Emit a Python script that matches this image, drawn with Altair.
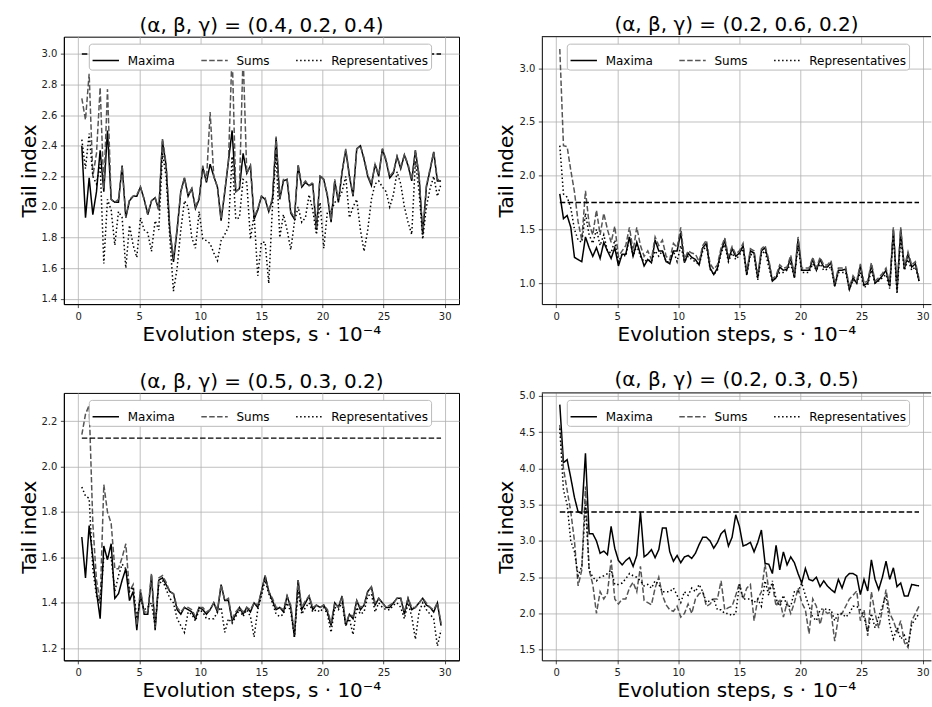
import altair as alt
import pandas as pd

FONT = "DejaVu Sans"

# x positions: evolution steps (s * 1e-4), sampled every 0.3
X = [round(0.3 * (i + 1), 1) for i in range(99)]
XTICKS = [0, 5, 10, 15, 20, 25, 30]

SERIES = ["Maxima", "Sums", "Representatives"]

# ---- panel 1: (0.4, 0.2, 0.4)
P1_TITLE = "(α, β, γ) = (0.4, 0.2, 0.4)"
P1_REF = 3.0
P1_YTICKS = [1.4, 1.6, 1.8, 2.0, 2.2, 2.4, 2.6, 2.8, 3.0]
P1_MAX = [2.40, 1.93, 2.19, 1.95, 2.10, 2.37, 2.10, 2.50, 2.05, 2.03,
          2.03, 2.27, 1.93, 2.04, 2.07, 2.07, 2.13, 2.05, 1.95, 2.04,
          2.06, 1.98, 2.43, 2.27, 1.85, 1.64, 1.85, 2.10, 2.19, 2.07,
          2.12, 1.99, 2.05, 2.26, 2.16, 2.28, 2.20, 2.13, 1.91, 2.10,
          2.30, 2.50, 2.10, 2.12, 2.35, 2.22, 2.27, 1.92, 1.98, 2.07,
          2.05, 1.97, 2.05, 2.45, 2.05, 2.17, 2.18, 1.96, 1.92, 2.27,
          2.13, 2.16, 2.14, 2.15, 1.85, 2.20, 2.18, 2.07, 1.90, 2.17,
          2.03, 2.23, 2.37, 2.20, 2.07, 2.38, 2.40, 2.31, 2.20, 2.14,
          2.28, 2.20, 2.38, 2.30, 2.19, 2.22, 2.33, 2.25, 2.34, 2.27,
          2.17, 2.37, 2.20, 1.82, 2.13, 2.24, 2.36, 2.17, 2.17]
P1_SUM = [2.71, 2.57, 2.87, 2.20, 2.35, 2.78, 2.12, 2.77, 2.05, 2.03,
          2.05, 2.27, 1.93, 2.05, 2.07, 2.08, 2.13, 2.05, 1.95, 2.04,
          2.06, 1.98, 2.45, 2.28, 1.86, 1.66, 1.86, 2.10, 2.19, 2.08,
          2.12, 2.00, 2.06, 2.27, 2.17, 2.62, 2.20, 2.13, 1.92, 2.10,
          2.30, 3.02, 2.10, 2.12, 3.00, 2.22, 2.27, 1.93, 1.99, 2.07,
          2.06, 1.97, 2.06, 2.46, 2.06, 2.18, 2.18, 1.97, 1.93, 2.28,
          2.14, 2.17, 2.14, 2.16, 1.85, 2.21, 2.18, 2.08, 1.91, 2.18,
          2.04, 2.23, 2.38, 2.21, 2.08, 2.38, 2.40, 2.32, 2.21, 2.15,
          2.28, 2.21, 2.38, 2.31, 2.20, 2.23, 2.33, 2.26, 2.34, 2.28,
          2.18, 2.37, 2.21, 1.82, 2.14, 2.25, 2.36, 2.18, 2.18]
P1_REP = [2.44, 2.25, 2.48, 2.20, 2.15, 2.28, 1.63, 2.05, 1.98, 1.75,
          1.97, 1.93, 1.60, 1.88, 1.75, 1.67, 1.93, 1.85, 1.83, 1.71,
          1.91, 1.85, 2.35, 2.20, 1.80, 1.45, 1.60, 1.85, 2.04, 2.00,
          1.80, 1.73, 1.97, 1.79, 1.78, 1.76, 1.70, 1.65, 1.78, 1.82,
          1.87, 2.33, 1.92, 1.93, 2.18, 2.16, 1.79, 1.95, 1.55, 1.77,
          1.77, 1.50, 2.00, 2.35, 1.80, 1.95, 1.85, 1.72, 1.90, 2.00,
          1.90, 1.93, 2.08, 1.98, 1.82, 2.03, 1.73, 1.97, 1.97, 2.03,
          2.05, 2.10, 2.20, 1.93, 2.00, 2.05, 1.85, 1.71, 1.85, 2.05,
          2.15, 2.17, 2.13, 2.10, 2.00, 2.08, 2.23, 2.15, 2.00, 1.90,
          1.82, 2.30, 2.10, 1.79, 2.00, 2.12, 2.20, 2.07, 2.15]

# ---- panel 2: (0.2, 0.6, 0.2)
P2_TITLE = "(α, β, γ) = (0.2, 0.6, 0.2)"
P2_REF = 1.75
P2_YTICKS = [1.0, 1.5, 2.0, 2.5, 3.0]
P2_MAX = [1.83, 1.60, 1.63, 1.52, 1.24, 1.22, 1.20, 1.43, 1.33, 1.25,
          1.33, 1.23, 1.38, 1.30, 1.23, 1.33, 1.16, 1.27, 1.27, 1.43,
          1.25, 1.38, 1.27, 1.16, 1.22, 1.19, 1.40, 1.30, 1.30, 1.20,
          1.18, 1.30, 1.30, 1.47, 1.19, 1.28, 1.24, 1.22, 1.17, 1.33,
          1.37, 1.14, 1.08, 1.14, 1.30, 1.40, 1.22, 1.32, 1.25, 1.28,
          1.35, 1.08, 1.30, 1.28, 1.05, 1.30, 1.33, 1.20, 1.02, 1.05,
          1.15, 1.12, 1.13, 1.24, 1.05, 1.41, 1.12, 1.12, 1.12, 1.22,
          1.12, 1.22, 1.15, 1.15, 1.19, 0.97, 1.12, 1.12, 1.13, 0.94,
          1.05, 1.00, 1.16, 0.98, 1.00, 1.17, 1.00, 1.03, 1.07, 1.12,
          0.97, 1.50, 0.93, 1.50, 1.13, 1.27, 1.15, 1.18, 1.02]
P2_SUM = [3.18, 2.28, 2.27, 2.05, 1.85, 1.57, 1.40, 1.86, 1.55, 1.45,
          1.68, 1.45, 1.65, 1.50, 1.38, 1.53, 1.25, 1.30, 1.35, 1.52,
          1.30, 1.52, 1.35, 1.25, 1.30, 1.22, 1.43, 1.35, 1.40, 1.25,
          1.22, 1.37, 1.33, 1.52, 1.22, 1.30, 1.28, 1.27, 1.20, 1.35,
          1.40, 1.18, 1.13, 1.17, 1.33, 1.42, 1.25, 1.34, 1.27, 1.30,
          1.37, 1.10, 1.32, 1.30, 1.07, 1.32, 1.35, 1.22, 1.04, 1.07,
          1.17, 1.14, 1.15, 1.26, 1.07, 1.43, 1.14, 1.14, 1.14, 1.24,
          1.14, 1.24, 1.17, 1.17, 1.21, 0.99, 1.14, 1.14, 1.15, 0.96,
          1.07, 1.02, 1.18, 1.00, 1.02, 1.19, 1.02, 1.05, 1.09, 1.14,
          0.99, 1.52, 0.95, 1.52, 1.15, 1.29, 1.17, 1.20, 1.04]
P2_REP = [2.28, 1.83, 1.80, 1.70, 1.50, 1.40, 1.38, 1.65, 1.45, 1.37,
          1.50, 1.35, 1.45, 1.30, 1.28, 1.40, 1.20, 1.27, 1.25, 1.43,
          1.25, 1.35, 1.25, 1.20, 1.22, 1.20, 1.30, 1.25, 1.30, 1.20,
          1.20, 1.30, 1.20, 1.35, 1.20, 1.25, 1.22, 1.20, 1.17, 1.30,
          1.35, 1.13, 1.08, 1.12, 1.28, 1.36, 1.20, 1.28, 1.22, 1.26,
          1.32, 1.07, 1.27, 1.25, 1.03, 1.27, 1.30, 1.15, 1.02, 1.05,
          1.10, 1.10, 1.12, 1.18, 1.05, 1.35, 1.10, 1.10, 1.10, 1.18,
          1.12, 1.18, 1.12, 1.13, 1.15, 0.97, 1.10, 1.10, 1.10, 0.94,
          1.03, 1.00, 1.10, 0.96, 0.98, 1.12, 1.00, 1.02, 1.05, 1.08,
          0.95, 1.45, 0.90, 1.42, 1.12, 1.22, 1.12, 1.15, 1.02]

# ---- panel 3: (0.5, 0.3, 0.2)
P3_TITLE = "(α, β, γ) = (0.5, 0.3, 0.2)"
P3_REF = 2.125
P3_YTICKS = [1.2, 1.4, 1.6, 1.8, 2.0, 2.2]
P3_MAX = [1.69, 1.51, 1.74, 1.60, 1.45, 1.33, 1.65, 1.59, 1.66, 1.42,
          1.44, 1.50, 1.55, 1.41, 1.45, 1.28, 1.45, 1.35, 1.35, 1.52,
          1.28, 1.50, 1.51, 1.48, 1.45, 1.44, 1.37, 1.35, 1.38, 1.37,
          1.36, 1.33, 1.38, 1.37, 1.35, 1.37, 1.40, 1.36, 1.48, 1.41,
          1.41, 1.32, 1.35, 1.38, 1.35, 1.38, 1.36, 1.40, 1.38, 1.45,
          1.52, 1.45, 1.41, 1.37, 1.38, 1.36, 1.43, 1.38, 1.25, 1.50,
          1.37, 1.40, 1.43, 1.37, 1.39, 1.38, 1.39, 1.36, 1.30, 1.40,
          1.38, 1.43, 1.30, 1.35, 1.33, 1.41, 1.37, 1.39, 1.45, 1.47,
          1.39, 1.42, 1.40, 1.38, 1.38, 1.40, 1.42, 1.42, 1.35, 1.42,
          1.37, 1.38, 1.40, 1.42, 1.39, 1.38, 1.36, 1.40, 1.30]
P3_SUM = [2.14, 2.23, 2.27, 1.75, 1.50, 1.40, 1.92, 1.80, 1.75, 1.55,
          1.55, 1.60, 1.66, 1.45, 1.48, 1.30, 1.46, 1.36, 1.36, 1.53,
          1.29, 1.51, 1.52, 1.49, 1.45, 1.44, 1.38, 1.36, 1.38, 1.38,
          1.37, 1.34, 1.38, 1.38, 1.36, 1.37, 1.40, 1.37, 1.48, 1.41,
          1.42, 1.33, 1.36, 1.38, 1.36, 1.38, 1.37, 1.40, 1.39, 1.45,
          1.52, 1.45, 1.42, 1.38, 1.38, 1.37, 1.43, 1.39, 1.26, 1.50,
          1.38, 1.41, 1.43, 1.38, 1.39, 1.38, 1.39, 1.37, 1.31, 1.40,
          1.38, 1.43, 1.31, 1.35, 1.34, 1.41, 1.38, 1.39, 1.45, 1.47,
          1.40, 1.42, 1.40, 1.38, 1.39, 1.40, 1.42, 1.42, 1.36, 1.42,
          1.38, 1.38, 1.40, 1.42, 1.40, 1.38, 1.37, 1.40, 1.31]
P3_REP = [1.91, 1.87, 1.86, 1.55, 1.43, 1.40, 1.60, 1.60, 1.60, 1.45,
          1.52, 1.57, 1.55, 1.45, 1.47, 1.33, 1.42, 1.37, 1.38, 1.40,
          1.30, 1.48, 1.50, 1.46, 1.42, 1.40, 1.33, 1.30, 1.27, 1.36,
          1.35, 1.32, 1.37, 1.36, 1.33, 1.33, 1.33, 1.36, 1.38, 1.27,
          1.33, 1.31, 1.34, 1.37, 1.34, 1.37, 1.34, 1.25, 1.37, 1.43,
          1.50, 1.44, 1.40, 1.35, 1.34, 1.35, 1.40, 1.36, 1.25, 1.45,
          1.35, 1.38, 1.40, 1.36, 1.37, 1.36, 1.38, 1.35, 1.27, 1.38,
          1.37, 1.40, 1.30, 1.33, 1.26, 1.38, 1.35, 1.36, 1.43, 1.44,
          1.36, 1.40, 1.38, 1.37, 1.37, 1.39, 1.40, 1.38, 1.33, 1.40,
          1.34, 1.24, 1.36, 1.40, 1.37, 1.35, 1.33, 1.21, 1.28]

# ---- panel 4: (0.2, 0.3, 0.5)
P4_TITLE = "(α, β, γ) = (0.2, 0.3, 0.5)"
P4_REF = 3.4
P4_YTICKS = [1.5, 2.0, 2.5, 3.0, 3.5, 4.0, 4.5, 5.0]
P4_MAX = [4.88, 4.08, 4.12, 3.87, 3.60, 3.40, 3.38, 4.21, 3.10, 3.10,
          3.00, 2.83, 2.86, 2.81, 3.20, 2.90, 2.73, 2.67, 2.73, 2.77,
          2.65, 2.80, 3.40, 2.78, 2.82, 2.88, 2.77, 2.88, 3.18, 3.18,
          2.85, 2.72, 2.80, 2.70, 2.78, 2.80, 2.76, 2.83, 2.95, 3.05,
          3.05, 3.00, 2.90, 2.98, 3.10, 3.15, 2.93, 3.05, 3.36, 3.20,
          2.93, 2.95, 2.98, 2.85, 2.98, 3.15, 2.69, 2.68, 2.55, 2.94,
          2.60, 2.85, 2.67, 2.78, 2.70, 2.55, 2.42, 2.62, 2.47, 2.45,
          2.50, 2.37, 2.45, 2.38, 2.33, 2.29, 2.47, 2.35, 2.50, 2.55,
          2.55, 2.52, 2.26, 2.47, 2.31, 2.74, 2.47, 2.33, 2.50, 2.72,
          2.47, 2.63, 2.37, 2.42, 2.24, 2.24, 2.40, 2.39, 2.38]
P4_SUM = [4.60, 4.00, 3.70, 3.40, 3.00, 2.38, 2.60, 3.75, 2.60, 2.40,
          2.00, 2.30, 2.20, 2.28, 2.74, 2.20, 2.13, 2.20, 2.20, 2.35,
          2.43, 2.30, 2.65, 2.18, 2.15, 2.12, 2.35, 2.50, 2.25, 2.12,
          2.05, 2.03, 2.10, 1.95, 2.00, 2.13, 2.00, 2.20, 2.27, 2.30,
          2.10, 2.13, 2.20, 2.20, 2.45, 2.05, 2.08, 2.10, 2.25, 2.42,
          2.20, 2.35, 2.40, 1.90, 2.20, 2.30, 2.68, 2.33, 2.40, 2.10,
          2.20, 1.95, 2.15, 2.00, 2.15, 2.35, 2.15, 2.05, 1.72, 2.20,
          2.10, 1.85, 2.05, 2.00, 2.02, 1.62, 1.95, 2.00, 2.10, 2.20,
          2.25, 2.31, 1.90, 2.05, 1.69, 2.30, 2.00, 1.80, 2.05, 2.33,
          2.00, 1.90, 1.75, 1.90, 1.60, 1.53, 1.90, 2.00, 2.10]
P4_REP = [4.55, 3.70, 3.50, 3.00, 2.85, 2.52, 2.65, 3.50, 2.60, 2.50,
          2.45, 2.50, 2.52, 2.55, 2.60, 2.40, 2.40, 2.42, 2.48, 2.55,
          2.52, 2.50, 2.45, 2.38, 2.40, 2.35, 2.45, 2.40, 2.30, 2.30,
          2.30, 2.35, 2.25, 2.15, 2.30, 2.25, 2.35, 2.30, 2.40, 2.30,
          2.15, 2.18, 2.20, 2.05, 2.05, 2.00, 2.00, 1.97, 2.00, 2.40,
          2.20, 2.20, 2.20, 2.15, 2.20, 2.10, 2.45, 2.25, 2.45, 2.20,
          2.10, 2.25, 2.10, 2.10, 2.30, 2.30, 2.42, 2.25, 2.10, 1.95,
          1.90, 2.05, 2.07, 2.05, 2.05, 1.90, 2.00, 2.00, 1.95, 2.00,
          2.10, 2.10, 2.05, 1.95, 1.75, 2.00, 1.80, 1.95, 2.10, 2.25,
          1.85, 1.65, 1.80, 1.65, 1.70, 1.55, 1.85, 1.92, 2.00]

PANEL_H = 268
LEFT_W = 396                   # full panels (left column)
RIGHT_W = 390                  # right column is cut by the figure edge
X_DOMAIN_LEFT = [-1.17, 31.17]
X_DOMAIN_RIGHT = [-1.17, 30.68]


def panel(title, mx, sm, rp, ref, ydom, yticks, width, xdom, cut):
    rows = []
    for name, vals in zip(SERIES, (mx, sm, rp)):
        assert len(vals) == len(X), (title, name, len(vals))
        for x, v in zip(X, vals):
            rows.append({"x": x, "v": v, "series": name})
    df = pd.DataFrame(rows)
    rdf = pd.DataFrame({"x0": [X[0]], "x1": [X[-1]], "ref": [ref]})

    xsc = alt.Scale(domain=xdom, nice=False, zero=False)
    ysc = alt.Scale(domain=ydom, nice=False, zero=False)
    xtitle = "Evolution steps, s · 10⁻⁴"
    ytitle = "Tail index"

    def xaxis():
        return alt.Axis(values=XTICKS, format="d", labelFlush=False,
                        labelOverlap=False, title=xtitle)

    def yaxis():
        return alt.Axis(values=yticks, format=".1f", labelFlush=False,
                        labelOverlap=False, title=ytitle)

    leg = alt.Legend(
        orient="none", legendX=25, legendY=7, direction="horizontal",
        columns=3, symbolType="stroke", symbolSize=700,
        symbolStrokeWidth=1.5, labelFontSize=12, labelFont=FONT,
        labelColor="black", labelOffset=8, columnPadding=22,
        fillColor="white", strokeColor="#bbbbbb", cornerRadius=3,
        padding=3,
    )
    lines = alt.Chart(df).mark_line(strokeWidth=1.5, clip=True).encode(
        x=alt.X("x:Q", scale=xsc, axis=xaxis()),
        y=alt.Y("v:Q", scale=ysc, axis=yaxis()),
        color=alt.Color("series:N", title=None, legend=leg,
                        scale=alt.Scale(domain=SERIES,
                                        range=["#000000", "#555555", "#000000"])),
        strokeDash=alt.StrokeDash("series:N", title=None, legend=leg,
                                  scale=alt.Scale(domain=SERIES,
                                                  range=[[1, 0], [5.5, 2.4], [1.5, 2.5]])),
    )
    rule = alt.Chart(rdf).mark_rule(color="black", strokeWidth=1.5,
                                    strokeDash=[5.5, 2.4]).encode(
        x=alt.X("x0:Q", scale=xsc, axis=xaxis()),
        x2="x1:Q",
        y=alt.Y("ref:Q", scale=ysc, axis=yaxis()),
    )
    layers = [lines, rule]
    props = dict(
        width=width, height=PANEL_H,
        title=alt.TitleParams(text=title, fontSize=20, font=FONT,
                              fontWeight="normal", anchor="middle",
                              offset=1, color="black"),
    )
    if cut:
        # right-hand panels run past the figure edge: no right frame line
        top = alt.Chart(rdf).mark_rule(color="black", strokeWidth=1).encode(
            x=alt.value(0), x2=alt.value(width), y=alt.value(0)
        )
        layers.append(top)
        props["view"] = alt.ViewBackground(stroke=None)
    return alt.layer(*layers).properties(**props)


p1 = panel(P1_TITLE, P1_MAX, P1_SUM, P1_REP, P1_REF, [1.365, 3.113], P1_YTICKS,
           LEFT_W, X_DOMAIN_LEFT, False)
p2 = panel(P2_TITLE, P2_MAX, P2_SUM, P2_REP, P2_REF, [0.805, 3.294], P2_YTICKS,
           RIGHT_W, X_DOMAIN_RIGHT, True)
p3 = panel(P3_TITLE, P3_MAX, P3_SUM, P3_REP, P3_REF, [1.147, 2.324], P3_YTICKS,
           LEFT_W, X_DOMAIN_LEFT, False)
p4 = panel(P4_TITLE, P4_MAX, P4_SUM, P4_REP, P4_REF, [1.354, 5.041], P4_YTICKS,
           RIGHT_W, X_DOMAIN_RIGHT, True)

chart = alt.concat(
    p1, p2, p3, p4, columns=2,
    spacing=alt.RowColnumber(row=89, column=83),
    bounds="flush",
).resolve_scale(
    color="independent", strokeDash="independent"
).resolve_legend(
    color="independent", strokeDash="independent"
).properties(
    padding={"left": 18, "top": 14, "right": 0, "bottom": 0},
    background="white",
).configure_axis(
    labelFont=FONT, labelFontSize=10, labelColor="#222222",
    titleFont=FONT, titleFontSize=20, titleFontWeight="normal",
    titleColor="black", tickSize=3.5, tickColor="#222222", tickWidth=0.8,
    gridColor="#b0b0b0", gridWidth=0.8, domainColor="black",
    domainWidth=1, labelPadding=3.5, labelOverlap=False,
).configure_axisX(titlePadding=3).configure_axisY(titlePadding=2).configure_view(
    stroke="black", strokeWidth=1
)

chart.save("out.html", embed_options={"renderer": "svg", "actions": False})
